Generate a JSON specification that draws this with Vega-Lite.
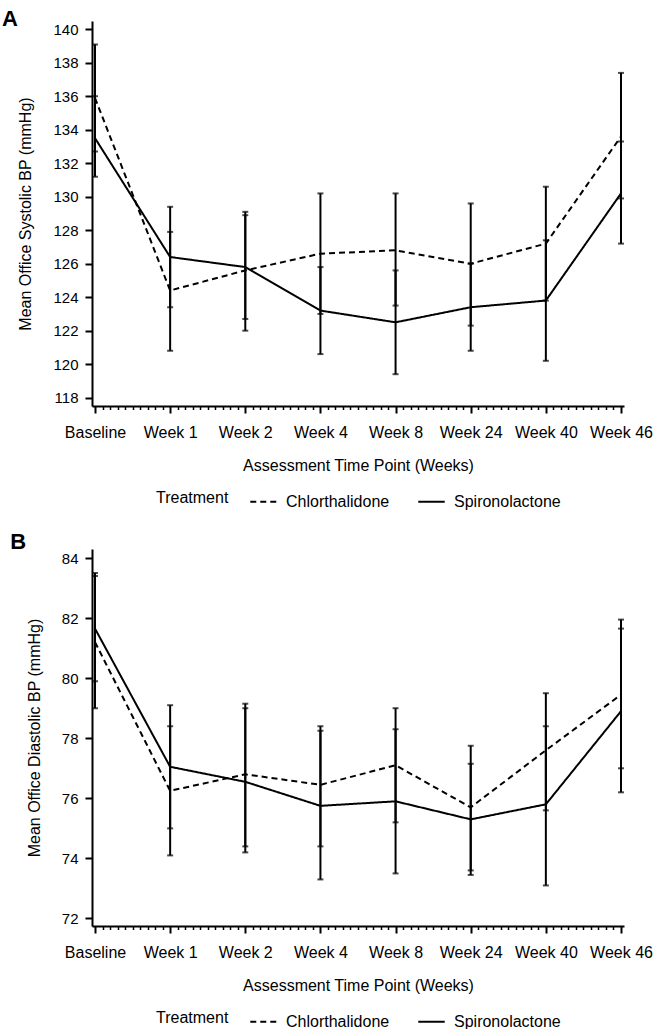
{
  "$schema": "https://vega.github.io/schema/vega-lite/v6.json",
  "background": "white",
  "padding": {"left": 1, "top": 8, "right": 5, "bottom": 5},
  "datasets": {
    "A": [
      {"t": 0, "treatment": "Chlorthalidone", "mean": 135.9, "lo": 132.7, "hi": 139.1},
      {"t": 1, "treatment": "Chlorthalidone", "mean": 124.4, "lo": 120.8, "hi": 127.9},
      {"t": 2, "treatment": "Chlorthalidone", "mean": 125.6, "lo": 122.0, "hi": 129.1},
      {"t": 3, "treatment": "Chlorthalidone", "mean": 126.6, "lo": 123.0, "hi": 130.2},
      {"t": 4, "treatment": "Chlorthalidone", "mean": 126.8, "lo": 123.5, "hi": 130.2},
      {"t": 5, "treatment": "Chlorthalidone", "mean": 126.0, "lo": 122.3, "hi": 129.6},
      {"t": 6, "treatment": "Chlorthalidone", "mean": 127.2, "lo": 123.8, "hi": 130.6},
      {"t": 7, "treatment": "Chlorthalidone", "mean": 133.6, "lo": 129.9, "hi": 137.4},
      {"t": 0, "treatment": "Spironolactone", "mean": 133.5, "lo": 131.2, "hi": 136.0},
      {"t": 1, "treatment": "Spironolactone", "mean": 126.4, "lo": 123.4, "hi": 129.4},
      {"t": 2, "treatment": "Spironolactone", "mean": 125.8, "lo": 122.7, "hi": 128.9},
      {"t": 3, "treatment": "Spironolactone", "mean": 123.2, "lo": 120.6, "hi": 125.8},
      {"t": 4, "treatment": "Spironolactone", "mean": 122.5, "lo": 119.4, "hi": 125.6},
      {"t": 5, "treatment": "Spironolactone", "mean": 123.4, "lo": 120.8, "hi": 126.0},
      {"t": 6, "treatment": "Spironolactone", "mean": 123.8, "lo": 120.2, "hi": 127.4},
      {"t": 7, "treatment": "Spironolactone", "mean": 130.2, "lo": 127.2, "hi": 133.3}
    ],
    "B": [
      {"t": 0, "treatment": "Chlorthalidone", "mean": 81.2, "lo": 79.0, "hi": 83.5},
      {"t": 1, "treatment": "Chlorthalidone", "mean": 76.25, "lo": 74.1, "hi": 78.4},
      {"t": 2, "treatment": "Chlorthalidone", "mean": 76.8, "lo": 74.4, "hi": 79.15},
      {"t": 3, "treatment": "Chlorthalidone", "mean": 76.45, "lo": 74.4, "hi": 78.4},
      {"t": 4, "treatment": "Chlorthalidone", "mean": 77.1, "lo": 75.2, "hi": 79.0},
      {"t": 5, "treatment": "Chlorthalidone", "mean": 75.7, "lo": 73.6, "hi": 77.75},
      {"t": 6, "treatment": "Chlorthalidone", "mean": 77.6, "lo": 75.6, "hi": 79.5},
      {"t": 7, "treatment": "Chlorthalidone", "mean": 79.45, "lo": 77.0, "hi": 81.95},
      {"t": 0, "treatment": "Spironolactone", "mean": 81.65, "lo": 79.9, "hi": 83.4},
      {"t": 1, "treatment": "Spironolactone", "mean": 77.05, "lo": 75.0, "hi": 79.1},
      {"t": 2, "treatment": "Spironolactone", "mean": 76.55, "lo": 74.2, "hi": 79.0},
      {"t": 3, "treatment": "Spironolactone", "mean": 75.75, "lo": 73.3, "hi": 78.25},
      {"t": 4, "treatment": "Spironolactone", "mean": 75.9, "lo": 73.5, "hi": 78.3},
      {"t": 5, "treatment": "Spironolactone", "mean": 75.3, "lo": 73.45, "hi": 77.15},
      {"t": 6, "treatment": "Spironolactone", "mean": 75.8, "lo": 73.1, "hi": 78.4},
      {"t": 7, "treatment": "Spironolactone", "mean": 78.9, "lo": 76.2, "hi": 81.65}
    ]
  },
  "vconcat": [
    {
      "width": 532,
      "height": 385,
      "title": {"text": "A", "anchor": "start", "frame": "bounds", "font": "Liberation Sans", "fontSize": 22, "fontWeight": "bold", "color": "black", "offset": 0, "dx": -16, "dy": 10},
      "data": {"name": "A"},
      "encoding": {
        "x": {
          "field": "t", "type": "quantitative",
          "scale": {"domain": [-0.04, 7.04], "nice": false, "zero": false},
          "axis": {
            "title": "Assessment Time Point (Weeks)",
            "values": [0,0.1,0.2,0.3,0.4,0.5,0.6,0.7,0.8,0.9,1,1.1,1.2,1.3,1.4,1.5,1.6,1.7,1.8,1.9,2,2.1,2.2,2.3,2.4,2.5,2.6,2.7,2.8,2.9,3,3.1,3.2,3.3,3.4,3.5,3.6,3.7,3.8,3.9,4,4.1,4.2,4.3,4.4,4.5,4.6,4.7,4.8,4.9,5,5.1,5.2,5.3,5.4,5.5,5.6,5.7,5.8,5.9,6,6.1,6.2,6.3,6.4,6.5,6.6,6.7,6.8,6.9,7],
            "labelExpr": "datum.value % 1 === 0 ? ['Baseline','Week 1','Week 2','Week 4','Week 8','Week 24','Week 40','Week 46'][datum.value] : ''",
            "tickSize": {"condition": {"test": "datum.value % 1 === 0", "value": 7}, "value": 3.5},
            "tickWidth": {"condition": {"test": "datum.value % 1 === 0", "value": 2}, "value": 1.5},
            "labelOverlap": false,
            "labelFlush": false,
            "labelPadding": 11,
            "labelFontSize": 16,
            "titlePadding": 17
          }
        }
      },
      "layer": [
        {
          "mark": {"type": "errorbar", "ticks": {"size": 6, "thickness": 2, "color": "black"}, "rule": {"strokeWidth": 2, "color": "black"}},
          "encoding": {
            "y": {"field": "lo", "type": "quantitative", "title": "Mean Office Systolic BP (mmHg)", "scale": {"domain": [117.5, 140.5], "nice": false, "zero": false},
              "axis": {"values": [118,120,122,124,126,128,130,132,134,136,138,140], "labelOverlap": false}},
            "y2": {"field": "hi"}
          }
        },
        {
          "mark": {"type": "line", "color": "black", "strokeWidth": 2},
          "encoding": {
            "y": {"field": "mean", "type": "quantitative", "title": "Mean Office Systolic BP (mmHg)", "scale": {"domain": [117.5, 140.5], "nice": false, "zero": false},
              "axis": {"values": [118,120,122,124,126,128,130,132,134,136,138,140], "labelOverlap": false}},
            "strokeDash": {
              "field": "treatment", "type": "nominal",
              "scale": {"domain": ["Chlorthalidone", "Spironolactone"], "range": [[6, 4], [1, 0]]},
              "legend": {"title": "Treatment", "orient": "bottom", "direction": "horizontal", "titleOrient": "left", "symbolType": "stroke", "symbolSize": 700, "symbolStrokeWidth": 2, "symbolStrokeColor": "black", "labelFontSize": 16, "titleFontSize": 16, "titleFontWeight": "normal", "titlePadding": 20, "labelOffset": 8, "columnPadding": 24, "offset": 14}
            }
          }
        }
      ]
    },
    {
      "width": 532,
      "height": 377,
      "title": {"text": "B", "anchor": "start", "frame": "bounds", "font": "Liberation Sans", "fontSize": 22, "fontWeight": "bold", "color": "black", "offset": 0, "dx": -16, "dy": 5},
      "data": {"name": "B"},
      "encoding": {
        "x": {
          "field": "t", "type": "quantitative",
          "scale": {"domain": [-0.04, 7.04], "nice": false, "zero": false},
          "axis": {
            "title": "Assessment Time Point (Weeks)",
            "values": [0,0.1,0.2,0.3,0.4,0.5,0.6,0.7,0.8,0.9,1,1.1,1.2,1.3,1.4,1.5,1.6,1.7,1.8,1.9,2,2.1,2.2,2.3,2.4,2.5,2.6,2.7,2.8,2.9,3,3.1,3.2,3.3,3.4,3.5,3.6,3.7,3.8,3.9,4,4.1,4.2,4.3,4.4,4.5,4.6,4.7,4.8,4.9,5,5.1,5.2,5.3,5.4,5.5,5.6,5.7,5.8,5.9,6,6.1,6.2,6.3,6.4,6.5,6.6,6.7,6.8,6.9,7],
            "labelExpr": "datum.value % 1 === 0 ? ['Baseline','Week 1','Week 2','Week 4','Week 8','Week 24','Week 40','Week 46'][datum.value] : ''",
            "tickSize": {"condition": {"test": "datum.value % 1 === 0", "value": 7}, "value": 3.5},
            "tickWidth": {"condition": {"test": "datum.value % 1 === 0", "value": 2}, "value": 1.5},
            "labelOverlap": false,
            "labelFlush": false,
            "labelPadding": 11,
            "labelFontSize": 16,
            "titlePadding": 17
          }
        }
      },
      "layer": [
        {
          "mark": {"type": "errorbar", "ticks": {"size": 6, "thickness": 2, "color": "black"}, "rule": {"strokeWidth": 2, "color": "black"}},
          "encoding": {
            "y": {"field": "lo", "type": "quantitative", "title": "Mean Office Diastolic BP (mmHg)", "scale": {"domain": [71.75, 84.3], "nice": false, "zero": false},
              "axis": {"values": [72,74,76,78,80,82,84], "labelOverlap": false}},
            "y2": {"field": "hi"}
          }
        },
        {
          "mark": {"type": "line", "color": "black", "strokeWidth": 2},
          "encoding": {
            "y": {"field": "mean", "type": "quantitative", "title": "Mean Office Diastolic BP (mmHg)", "scale": {"domain": [71.75, 84.3], "nice": false, "zero": false},
              "axis": {"values": [72,74,76,78,80,82,84], "labelOverlap": false}},
            "strokeDash": {
              "field": "treatment", "type": "nominal",
              "scale": {"domain": ["Chlorthalidone", "Spironolactone"], "range": [[6, 4], [1, 0]]},
              "legend": {"title": "Treatment", "orient": "bottom", "direction": "horizontal", "titleOrient": "left", "symbolType": "stroke", "symbolSize": 700, "symbolStrokeWidth": 2, "symbolStrokeColor": "black", "labelFontSize": 16, "titleFontSize": 16, "titleFontWeight": "normal", "titlePadding": 20, "labelOffset": 8, "columnPadding": 24, "offset": 14}
            }
          }
        }
      ]
    }
  ],
  "spacing": 21,
  "resolve": {"scale": {"strokeDash": "independent"}},
  "config": {
    "font": "Liberation Sans",
    "view": {"stroke": null},
    "axis": {
      "grid": false,
      "domainColor": "black",
      "domainWidth": 2,
      "tickColor": "black",
      "tickWidth": 2,
      "tickSize": 7,
      "labelColor": "black",
      "labelFont": "Liberation Sans",
      "labelFontSize": 15,
      "labelPadding": 6,
      "labelOverlap": false,
      "titleColor": "black",
      "titleFont": "Liberation Sans",
      "titleFontSize": 16,
      "titleFontWeight": "normal",
      "titlePadding": 14
    },
    "axisY": {"labelPadding": 7, "titlePadding": 19},
    "legend": {
      "labelColor": "black",
      "titleColor": "black",
      "labelFont": "Liberation Sans",
      "titleFont": "Liberation Sans",
      "layout": {"bottom": {"anchor": "middle"}}
    }
  }
}
